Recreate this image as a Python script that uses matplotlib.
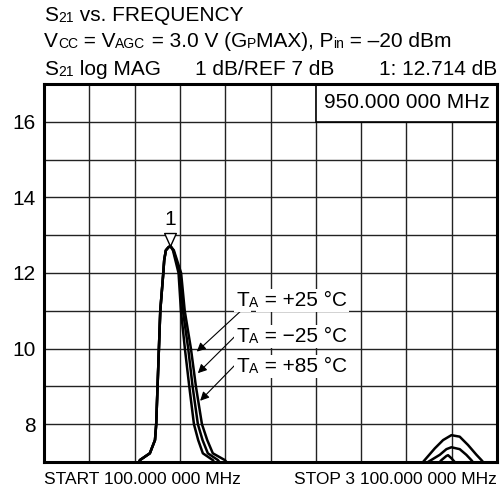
import matplotlib
matplotlib.use('Agg')
import matplotlib.pyplot as plt
from matplotlib.path import Path
from matplotlib.patches import Rectangle

plt.rcParams['font.family'] = ['Liberation Sans', 'DejaVu Sans']

W, H = 503, 495

# ---------------- data ----------------
# shared rising edge (MHz, dB)
freq_rise = [500, 650, 735, 801, 835, 843, 852, 861, 870, 890, 896, 907, 924, 937]
gain_rise = [5.0, 6.0, 7.05, 7.23, 7.58, 8.0, 9.0, 10.0, 11.0, 12.0, 12.34, 12.6, 12.68, 12.714]

# falling edge + tail for each temperature
freq_p25 = [954, 991, 1007, 1033, 1062, 1093, 1121, 1152, 1218, 1260, 1350, 1600, 2000, 2400, 2560,
            2610, 2688, 2743, 2798, 2853, 2908, 2964, 2997, 3050, 3100]
gain_p25 = [12.6, 12.0, 11.0, 10.0, 9.0, 8.0, 7.58, 7.23, 7.05, 6.8, 6.3, 5.5, 5.0, 5.8, 6.7,
            7.0, 7.36, 7.58, 7.71, 7.67, 7.45, 7.19, 7.05, 6.8, 6.5]

freq_m25 = [957, 1000, 1020, 1055, 1084, 1119, 1150, 1185, 1252, 1300, 1400, 1650, 2000, 2400, 2600,
            2643, 2721, 2765, 2798, 2853, 2897, 2930, 2960, 3100]
gain_m25 = [12.6, 12.0, 11.0, 10.0, 9.0, 8.0, 7.58, 7.23, 7.05, 6.8, 6.3, 5.5, 5.0, 5.6, 6.8,
            7.0, 7.19, 7.34, 7.39, 7.34, 7.19, 7.05, 6.9, 6.0]

freq_p85 = [960, 1008, 1032, 1073, 1106, 1146, 1181, 1218, 1298, 1350, 1450, 1700, 2000, 2400, 2700,
            2732, 2765, 2776, 2798, 2820, 2860, 3100]
gain_p85 = [12.6, 12.0, 11.0, 10.0, 9.0, 8.0, 7.58, 7.23, 7.05, 6.8, 6.3, 5.5, 5.0, 5.5, 6.9,
            7.05, 7.16, 7.18, 7.1, 7.0, 6.8, 6.0]

marker_freq = 937
marker_gain = 12.714

x_start, x_stop, x_div = 100, 3100, 300
y_min, y_max = 7, 17
y_ticks = [8, 10, 12, 14, 16]

FS = 15
SUB = 10

# ---------------- figure ----------------
fig = plt.figure(figsize=(W / 100, H / 100), dpi=100)
ax = fig.add_axes([44 / W, (H - 462) / H, 453 / W, 378 / H])
ax.set_xlim(x_start, x_stop)
ax.set_ylim(y_min, y_max)

ax.set_xticks(range(x_start, x_stop + 1, x_div))
ax.set_yticks(y_ticks, [str(v) for v in y_ticks])
ax.set_xticklabels([])
ax.tick_params(length=0, labelsize=FS, pad=6)
ax.yaxis.set_minor_locator(matplotlib.ticker.FixedLocator(range(y_min, y_max + 1)))
ax.tick_params(which='minor', length=0)
ax.grid(True, which='both', color='#222222', lw=1.0, zorder=1)
ax.set_axisbelow(True)
for sp in ax.spines.values():
    sp.set_linewidth(2.2)
    sp.set_zorder(6)

curve_kw = dict(color='black', lw=1.8, solid_joinstyle='round', zorder=3)
for fr, gr in [(freq_p25, gain_p25), (freq_m25, gain_m25), (freq_p85, gain_p85)]:
    ax.plot(freq_rise + fr, gain_rise + gr, **curve_kw)

# marker 1
tri = Path([(0, 0), (-0.45, 1), (0.45, 1), (0, 0)],
           [Path.MOVETO, Path.LINETO, Path.LINETO, Path.CLOSEPOLY])
ax.plot([marker_freq], [marker_gain], marker=tri, ms=18.7, mfc='white', mec='black',
        mew=1.0, ls='none', zorder=5, clip_on=False)
ax.annotate('1', xy=(marker_freq, marker_gain), xytext=(0, 19), textcoords='offset points',
            ha='center', va='center', fontsize=FS)

# frequency box
ax.add_patch(Rectangle((1900, 16), 1200, 1, facecolor='white', edgecolor='black',
                       lw=1.2, zorder=4))
ax.text(2500, 16.5, '950.000 000 MHz', ha='center', va='center', fontsize=FS, zorder=5)


def rich(first_text, parts, size=FS, sub=SUB, bbox=None):
    """append parts [(string, is_subscript)] after first_text keeping baseline"""
    prev = first_text
    for s, is_sub in parts:
        t = ax.annotate(s, xy=(1, 0), xycoords=(prev, first_text), va='bottom', ha='left',
                        fontsize=sub if is_sub else size, annotation_clip=False,
                        bbox=None if is_sub else bbox, zorder=7 if is_sub else 5)
        prev = t
    return prev


# temperature labels with arrows
labels = [('+25', 1375, 11.13, (1410, 11.02), (1112, 9.92)),
          ('\u221225', 1375, 10.18, (1366, 10.33), (1119, 9.35)),
          ('+85', 1375, 9.38, (1366, 9.57), (1134, 8.62))]
wb = dict(facecolor='white', edgecolor='none', pad=1.5)
for temp, lx, ly, tail, tip in labels:
    ax.annotate('', xy=tip, xytext=tail,
                arrowprops=dict(arrowstyle='-|>', color='black', lw=0.8,
                                mutation_scale=13, shrinkA=0, shrinkB=0), zorder=4)
    t0 = ax.text(lx, ly, 'T', fontsize=FS, va='baseline', ha='left', bbox=wb, zorder=5)
    rich(t0, [('A', True), (' = ' + temp + ' \u00b0C', False)], bbox=wb)


# header lines
def fig_line(x_px, base_px, parts, size=FS, sub=SUB):
    s0, _ = parts[0]
    t0 = fig.text(x_px / W, 1 - base_px / H, s0, fontsize=size, va='baseline', ha='left')
    rich(t0, parts[1:], size=size, sub=sub)


fig_line(44, 20.7, [('S', False), ('21', True), (' vs. FREQUENCY', False)])
fig_line(44, 46.7, [('V', False), ('CC', True), (' = V', False), ('AGC', True),
                    (' = 3.0 V (G', False), ('P', True), ('MAX), P', False), ('in', True),
                    (' = \u201320 dBm', False)])
fig_line(44, 75, [('S', False), ('21', True), (' log MAG', False)])
fig.text(195 / W, 1 - 75 / H, '1 dB/REF 7 dB', fontsize=FS, va='baseline', ha='left')
fig.text(497 / W, 1 - 75 / H, '1: 12.714 dB', fontsize=FS, va='baseline', ha='right')

fig.text(44 / W, 1 - 483.5 / H, 'START 100.000 000 MHz', fontsize=12.5, va='baseline', ha='left')
fig.text(497 / W, 1 - 483.5 / H, 'STOP 3 100.000 000 MHz', fontsize=12.5, va='baseline', ha='right')

fig.savefig('out.png', dpi=100)
